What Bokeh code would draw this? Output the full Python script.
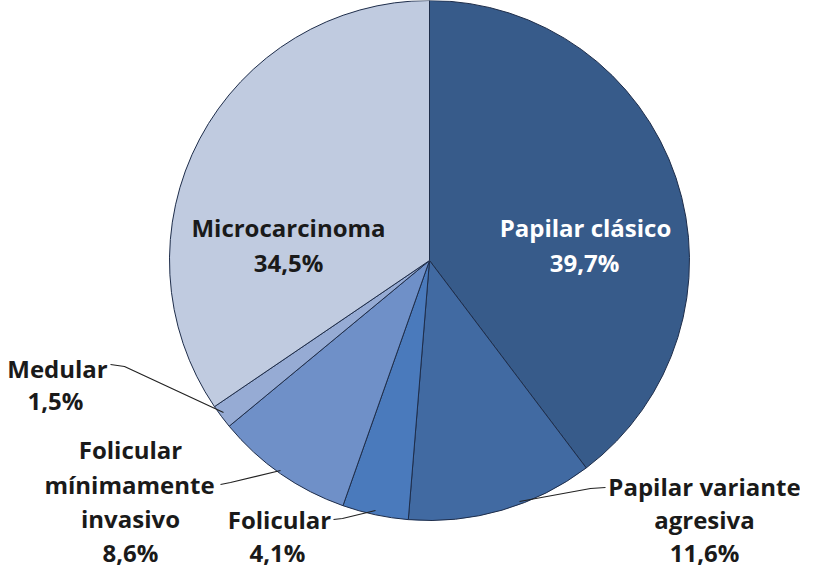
import math
from bokeh.plotting import figure
from bokeh.models import Range1d, ColumnDataSource
from bokeh.core.properties import value
from bokeh.embed import file_html
from bokeh.resources import INLINE

categories = ["Papilar clásico", "Papilar variante agresiva", "Folicular",
              "Folicular mínimamente invasivo", "Medular", "Microcarcinoma"]
percentages = [39.7, 11.6, 4.1, 8.6, 1.5, 34.5]
colors = ["#375B8A", "#416AA2", "#4A7ABC", "#6F90C8", "#96ABD4", "#C0CBE0"]

W, H = 800, 569
FONT = "Open Sans"

def sx(x):
    return x - 8

def sy(y):
    return H + 8 - y

p = figure(width=W, height=H, x_range=Range1d(0, W), y_range=Range1d(0, H),
           output_backend="svg", toolbar_location=None, min_border=0)
p.axis.visible = False
p.grid.visible = False
p.outline_line_color = None
p.background_fill_color = "white"

cx, cy, r = sx(437), sy(268), 260
total = sum(percentages)
starts, ends = [], []
acc = 0.0
for v in percentages:
    a0 = math.pi / 2 - 2 * math.pi * acc / total
    acc += v
    a1 = math.pi / 2 - 2 * math.pi * acc / total
    starts.append(a0)
    ends.append(a1)

src = ColumnDataSource(dict(start=starts, end=ends, color=colors, cat=categories))
p.wedge(x=cx, y=cy, radius=r, start_angle="start", end_angle="end",
        direction="clock", fill_color="color", line_color="#1E2D4A",
        line_width=1, source=src)

def fmt(v):
    return f"{v:.1f}%".replace(".", ",")

# label lines: (text, screen x, screen baseline y, color)
label_lines = [
    ("Papilar clásico", 593, 235, "white"),
    (fmt(percentages[0]), 592, 270, "white"),
    ("Microcarcinoma", 296, 235, "#1A1A1A"),
    (fmt(percentages[5]), 296, 270, "#1A1A1A"),
    ("Medular", 65, 376, "#1A1A1A"),
    (fmt(percentages[4]), 63, 408, "#1A1A1A"),
    ("Folicular", 138, 457, "#1A1A1A"),
    ("mínimamente", 137, 492, "#1A1A1A"),
    ("invasivo", 138, 526, "#1A1A1A"),
    (fmt(percentages[3]), 138, 560, "#1A1A1A"),
    ("Folicular", 287, 527, "#1A1A1A"),
    (fmt(percentages[2]), 285, 560, "#1A1A1A"),
    ("Papilar variante", 712, 494, "#1A1A1A"),
    ("agresiva", 712, 527, "#1A1A1A"),
    (fmt(percentages[1]), 712, 560, "#1A1A1A"),
]
tsrc = ColumnDataSource(dict(
    x=[sx(t[1]) for t in label_lines],
    y=[sy(t[2]) for t in label_lines],
    text=[t[0] for t in label_lines],
    color=[t[3] for t in label_lines],
))
p.text(x="x", y="y", text="text", text_color="color", source=tsrc,
       text_font=value(FONT), text_font_style="bold", text_font_size="24px",
       text_align="center", text_baseline="alphabetic")

leaders = [
    [(118, 372), (132, 374), (231, 420)],
    [(228, 492), (238, 490), (288, 478)],
    [(341, 527), (350, 526), (383, 518)],
    [(613, 495), (598, 496), (527, 509)],
]
p.multi_line(xs=[[sx(a) for a, b in l] for l in leaders],
             ys=[[sy(b) for a, b in l] for l in leaders],
             line_color="#222222", line_width=1.2)

open("out.html", "w").write(file_html(p, INLINE))
